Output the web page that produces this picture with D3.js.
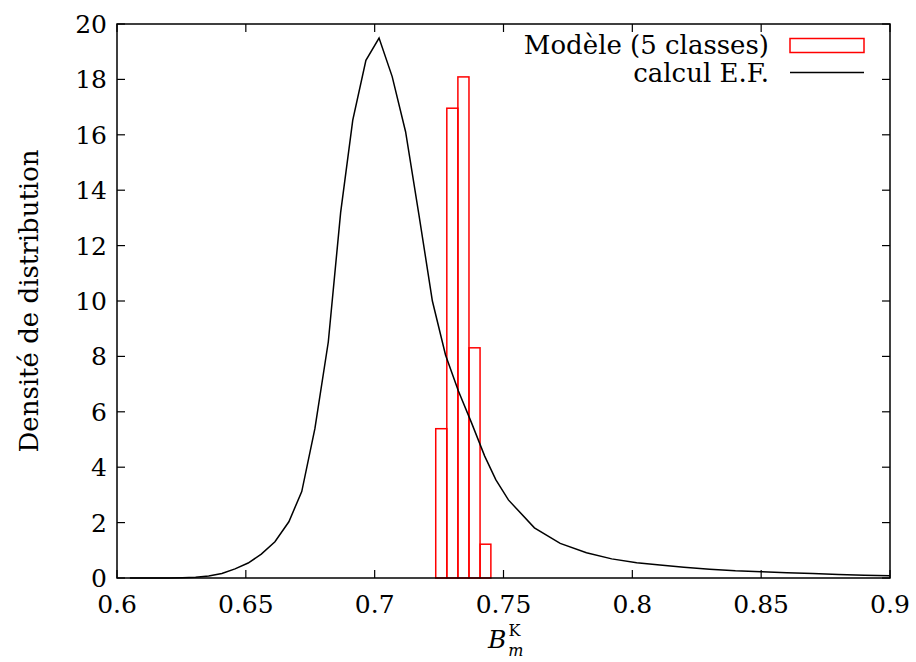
<!DOCTYPE html>
<html>
<head>
<meta charset="utf-8">
<script src="https://cdn.jsdelivr.net/npm/d3@7"></script>
<style>
  html, body { margin: 0; padding: 0; background: #fff; }
</style>
</head>
<body>
<svg id="chart" width="916" height="662"></svg>
<script>
// ---- data ----
const xTicks = [0.6, 0.65, 0.7, 0.75, 0.8, 0.85, 0.9];
const xTickLabels = ["0.6", "0.65", "0.7", "0.75", "0.8", "0.85", "0.9"];
const yTicks = [0, 2, 4, 6, 8, 10, 12, 14, 16, 18, 20];
const yTickLabels = ["0", "2", "4", "6", "8", "10", "12", "14", "16", "18", "20"];

// histogram "Modèle (5 classes)"
const binStarts = [0.7237, 0.7280, 0.7323, 0.7366, 0.7409];
const binEnds   = [0.7280, 0.7323, 0.7366, 0.7409, 0.7451];
const binHeights = [5.39, 16.96, 18.09, 8.31, 1.22];

// curve "calcul E.F."
const curveX = [0.6050, 0.6101, 0.6152, 0.6203, 0.6254, 0.6305, 0.6356, 0.6407, 0.6458, 0.6509,
                0.6560, 0.6613, 0.6667, 0.6717, 0.6768, 0.6820, 0.6868, 0.6915, 0.6966, 0.7017,
                0.7068, 0.7120, 0.7172, 0.7224, 0.7275, 0.7325, 0.7376, 0.7427, 0.7470, 0.7519,
                0.7620, 0.7720, 0.7822, 0.7920, 0.8017, 0.8107, 0.8200, 0.8300, 0.8400, 0.8500,
                0.8600, 0.8700, 0.8800, 0.8900, 0.9000];
const curveY = [0.00, 0.00, 0.00, 0.00, 0.01, 0.03, 0.07, 0.16, 0.33, 0.54,
                0.86, 1.31, 2.03, 3.12, 5.39, 8.52, 13.2, 16.53, 18.69, 19.49,
                18.10, 16.11, 13.1, 10.0, 8.05, 6.75, 5.6, 4.4, 3.55, 2.82,
                1.81, 1.25, 0.91, 0.69, 0.55, 0.47, 0.39, 0.32, 0.26, 0.23,
                0.19, 0.16, 0.13, 0.10, 0.08];

const legendLabels = ["Modèle (5 classes)", "calcul E.F."];

// ---- layout ----
const FONT = "'DejaVu Serif', serif";
const W = 916, H = 662;
const m = { left: 117, right: 26, top: 24, bottom: 84 };
const pw = W - m.left - m.right, ph = H - m.top - m.bottom;
const svg = d3.select("#chart").attr("font-family", FONT);
const g = svg.append("g").attr("transform", `translate(${m.left},${m.top})`);

const x = d3.scaleLinear().domain([0.6, 0.9]).range([0, pw]);
const y = d3.scaleLinear().domain([0, 20]).range([ph, 0]);

const fs = 25;
const tickLen = 8;

// ticks (inward, mirrored)
const ax = g.append("g").attr("stroke", "#000").attr("stroke-width", 1.2);
xTicks.forEach(v => {
  ax.append("line").attr("x1", x(v)).attr("x2", x(v)).attr("y1", ph).attr("y2", ph - tickLen);
  ax.append("line").attr("x1", x(v)).attr("x2", x(v)).attr("y1", 0).attr("y2", tickLen);
});
yTicks.forEach(v => {
  ax.append("line").attr("x1", 0).attr("x2", tickLen).attr("y1", y(v)).attr("y2", y(v));
  ax.append("line").attr("x1", pw).attr("x2", pw - tickLen).attr("y1", y(v)).attr("y2", y(v));
});

// tick labels
g.selectAll(".xl").data(xTicks).enter().append("text")
  .attr("font-family", FONT)
  .attr("x", d => x(d)).attr("y", ph + 35)
  .attr("text-anchor", "middle").attr("font-size", fs)
  .text((d, i) => xTickLabels[i]);
g.selectAll(".yl").data(yTicks).enter().append("text")
  .attr("font-family", FONT)
  .attr("x", -10).attr("y", d => y(d)).attr("dy", "0.36em")
  .attr("text-anchor", "end").attr("font-size", fs)
  .text((d, i) => yTickLabels[i]);

// histogram bars
g.selectAll(".bar").data(binHeights).enter().append("rect")
  .attr("x", (d, i) => x(binStarts[i]))
  .attr("width", (d, i) => x(binEnds[i]) - x(binStarts[i]))
  .attr("y", d => y(d))
  .attr("height", d => y(0) - y(d))
  .attr("fill", "none").attr("stroke", "#ff0000").attr("stroke-width", 1.5);

// curve
const pts = curveX.map((v, i) => [v, curveY[i]]);
g.append("path").datum(pts)
  .attr("d", d3.line().x(d => x(d[0])).y(d => y(d[1])))
  .attr("fill", "none").attr("stroke", "#000").attr("stroke-width", 1.5);

// frame
g.append("rect").attr("x", 0).attr("y", 0).attr("width", pw).attr("height", ph)
  .attr("fill", "none").attr("stroke", "#000").attr("stroke-width", 1.5);

// legend
const sx0 = 673, sx1 = 747;
g.append("text").attr("font-family", FONT).attr("x", 652).attr("y", 21).attr("dy", "0.36em")
  .attr("text-anchor", "end").attr("font-size", 26).text(legendLabels[0]);
g.append("rect").attr("x", sx0).attr("y", 14.5).attr("width", sx1 - sx0).attr("height", 14)
  .attr("fill", "none").attr("stroke", "#ff0000").attr("stroke-width", 1.5);
g.append("text").attr("font-family", FONT).attr("x", 652).attr("y", 49).attr("dy", "0.36em")
  .attr("text-anchor", "end").attr("font-size", 26).text(legendLabels[1]);
g.append("line").attr("x1", sx0).attr("x2", sx1).attr("y1", 48.5).attr("y2", 48.5)
  .attr("stroke", "#000").attr("stroke-width", 1.5);

// axis titles
svg.append("text").attr("font-family", FONT)
  .attr("transform", `translate(38,${m.top + ph / 2}) rotate(-90)`)
  .attr("text-anchor", "middle").attr("font-size", 26)
  .text("Densité de distribution");

const xt = svg.append("text").attr("font-family", FONT).attr("x", 488).attr("y", 648).attr("font-size", fs);
xt.append("tspan").attr("font-style", "italic").text("B");
xt.append("tspan").attr("font-size", 16).attr("dx", 2).attr("dy", -12).text("K");
xt.append("tspan").attr("font-size", 16).attr("font-style", "italic").attr("dx", -12).attr("dy", 20).text("m");
</script>
</body>
</html>
